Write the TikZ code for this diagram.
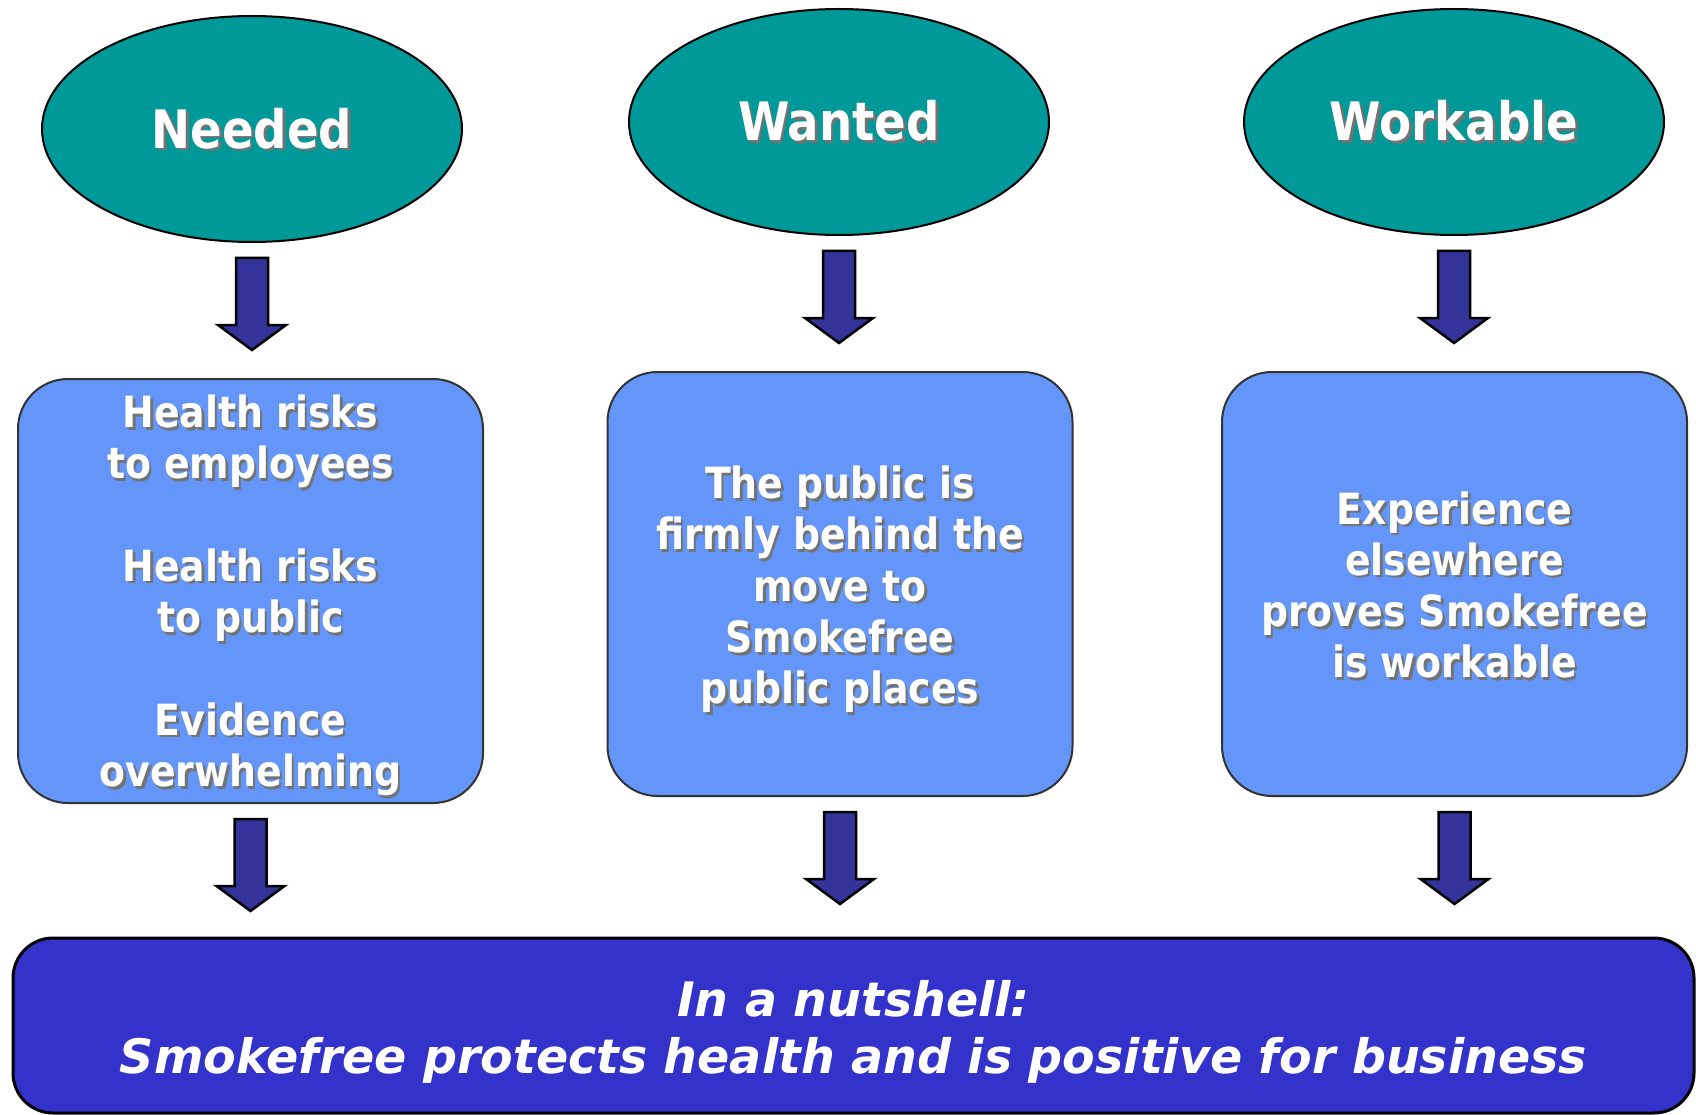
\documentclass[tikz,border=0pt]{standalone}
\usepackage{fontspec}
\usepackage{xcolor}
\usetikzlibrary{shapes.geometric,calc}

\newfontfamily\labelfont{DejaVu Sans}[FakeStretch=0.88]
\newfontfamily\barfont{DejaVu Sans}

\definecolor{ovalteal}{RGB}{0,153,153}
\definecolor{boxblue}{RGB}{100,150,250}
\definecolor{barblue}{RGB}{51,51,204}
\definecolor{arrowblue}{RGB}{51,51,153}

% white text with a soft dark shadow behind it
\newcommand\shadowtext[1]{\makebox[0pt][l]{\kern2.5pt\raisebox{-2.5pt}{\color{black!55}#1}}#1}
% taller first line, pushes the text block down a little
\newcommand\topstrut[1]{\rule{0pt}{#1}}

% block arrow pointing down, hanging below a node
\newcommand\blockarrow[1]{%
  \draw[arrowstyle] ($(#1.south)+(-16,15)$) -- ++(32,0) -- ++(0,67) -- ++(18,0)
                    -- ++(-34,25) -- ++(-34,-25) -- ++(18,0) -- cycle;}

\begin{document}
\begin{tikzpicture}[x=1pt, y=-1pt,
    oval/.style={ellipse, draw=black, line width=2pt, fill=ovalteal, text=white,
                 minimum width=420pt, minimum height=226pt, inner sep=0pt,
                 font={\labelfont\bfseries\fontsize{53}{60}\selectfont}},
    textbox/.style={rectangle, rounded corners=50pt, draw=black!80, line width=2pt,
                    fill=boxblue, text=white, align=center,
                    minimum width=465pt, minimum height=424pt, inner sep=0pt,
                    font={\labelfont\bfseries\fontsize{43}{51.3}\selectfont}},
    summary/.style={rectangle, rounded corners=40pt, draw=black, line width=3pt,
                    fill=barblue, text=white, align=center,
                    minimum width=1681pt, minimum height=175pt, inner sep=0pt,
                    font={\barfont\bfseries\itshape\fontsize{47.5}{57}\selectfont}},
    arrowstyle/.style={draw=black, line width=2.5pt, fill=arrowblue, line join=miter}]
    \useasboundingbox (0,0) rectangle (1696,1115);

    % top row
    \node[oval] (need) at (252,129) {\topstrut{42pt}\shadowtext{Needed}};
    \node[oval] (want) at (839,122) {\shadowtext{Wanted}};
    \node[oval] (work) at (1454,122) {\shadowtext{Workable}};

    % middle row
    \node[textbox] (needbox) at (250.5,591) {\topstrut{44pt}\shadowtext{Health risks}\\
                                             \shadowtext{to employees}\\[51.3pt]
                                             \shadowtext{Health risks}\\
                                             \shadowtext{to public}\\[51.3pt]
                                             \shadowtext{Evidence}\\
                                             \shadowtext{overwhelming}};
    \node[textbox] (wantbox) at (840,584) {\topstrut{46pt}\shadowtext{The public is}\\
                                           \shadowtext{firmly behind the}\\
                                           \shadowtext{move to}\\
                                           \shadowtext{Smokefree}\\
                                           \shadowtext{public places}};
    \node[textbox] (workbox) at (1454.5,584) {\topstrut{37pt}\shadowtext{Experience}\\
                                              \shadowtext{elsewhere}\\
                                              \shadowtext{proves Smokefree}\\
                                              \shadowtext{is workable}};

    % bottom bar
    \node[summary] (nutshell) at (853.5,1025.5) {\topstrut{49pt}In a nutshell:\\
                              Smokefree protects health and is positive for business};

    \blockarrow{need}
    \blockarrow{want}
    \blockarrow{work}
    \blockarrow{needbox}
    \blockarrow{wantbox}
    \blockarrow{workbox}
\end{tikzpicture}
\end{document}
